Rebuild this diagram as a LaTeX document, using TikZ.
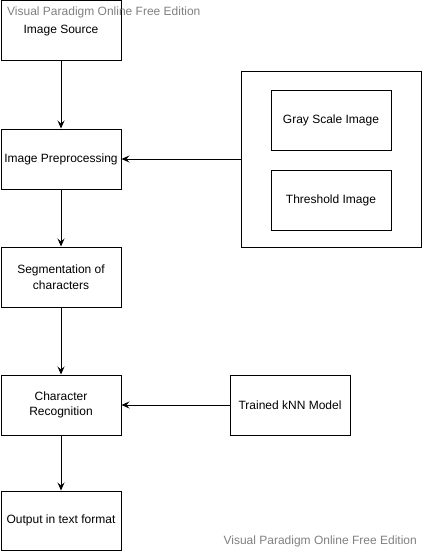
\documentclass[tikz,border=0pt]{standalone}
\usepackage{fontspec}
\setmainfont{Liberation Sans}
\usetikzlibrary{arrows.meta}
\begin{document}
\begin{tikzpicture}[x=1pt,y=-1pt,
  box/.style={draw=black,line width=1pt,minimum width=120pt,minimum height=60pt,inner sep=0pt,align=center,font=\fontsize{12}{15.5}\selectfont,anchor=north west},
  conn/.style={line width=1pt,-{Stealth[length=8pt,width=7pt,inset=3pt]}},
  wm/.style={text=black!50,font=\fontsize{12}{15}\selectfont,inner sep=0pt}]
\useasboundingbox (0,0) rectangle (422,551);
\clip (0,0) rectangle (422,551);
\node[box] (src) at (0.5,0) {Image Source};
\node[box] (pre) at (0.5,128.5) {Image Preprocessing};
\node[box] (seg) at (0.5,246.5) {Segmentation of\\characters};
\node[box] (rec) at (0.5,374.5) {Character\\Recognition};
\node[box,minimum height=59.5pt] (out) at (0.5,490.5) {Output in text format};
\node[box] (knn) at (229.5,374.5) {Trained kNN Model};
\node[box,minimum width=180.5pt,minimum height=176pt] (grp) at (240.5,70.5) {};
\node[box] (gray) at (270.5,89.5) {Gray Scale Image};
\node[box] (thr) at (270.5,169.5) {Threshold Image};
\draw[conn] (src) -- (pre);
\draw[conn] (pre) -- (seg);
\draw[conn] (seg) -- (rec);
\draw[conn] (rec) -- (out);
\draw[conn] (grp.west) -- (pre.east);
\draw[conn] (knn) -- (rec);
\node[wm,anchor=west] (wm1) at (7,12) {Visual Paradigm Online Free Edition};
\node[wm,anchor=east] (wm2) at (417,541) {Visual Paradigm Online Free Edition};
\end{tikzpicture}
\end{document}
